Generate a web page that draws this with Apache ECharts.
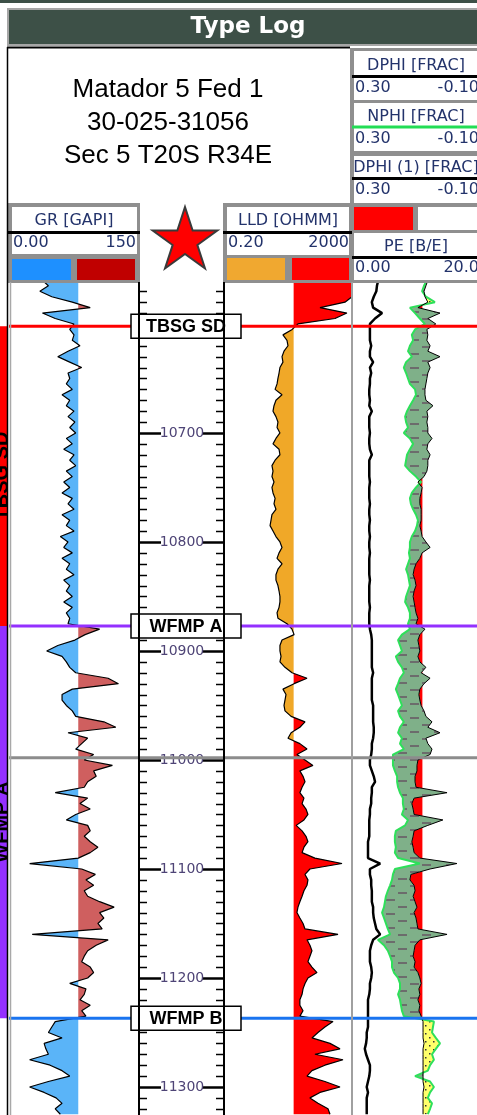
<!DOCTYPE html>
<html>
<head>
<meta charset="utf-8">
<title>Type Log</title>
<script src="https://cdn.jsdelivr.net/npm/echarts@6/dist/echarts.min.js"></script>
<style>
  html, body { margin: 0; padding: 0; background: #fff; overflow: hidden; }
  #main { width: 480px; height: 1115px; }
</style>
</head>
<body>
<div id="main"></div>
<script>
// curves are sampled every 5 ft from 10560 ft
const sampleTop = 10560;
const sampleStep = 5;

// GR [GAPI]
const gr = [
  38, 45, 35, 49, 73, 94, 38, 53, 75, 70,
  75, 73, 82, 68, 56, 70, 84, 68, 70, 66,
  73, 61, 70, 66, 75, 68, 76, 70, 77, 66,
  73, 63, 75, 70, 77, 66, 73, 63, 70, 61,
  73, 68, 75, 61, 70, 66, 75, 59, 68, 63,
  73, 61, 70, 66, 75, 63, 70, 66, 73, 63,
  73, 66, 70, 68, 105, 88, 76, 56, 43, 61,
  66, 70, 77, 115, 127, 73, 61, 61, 66, 73,
  77, 110, 124, 68, 91, 84, 77, 98, 87, 120,
  98, 101, 91, 87, 53, 91, 82, 94, 77, 66,
  91, 94, 87, 94, 103, 94, 80, 23, 84, 100,
  89, 98, 87, 91, 105, 122, 105, 110, 103, 108,
  26, 115, 101, 91, 87, 84, 94, 98, 91, 70,
  89, 87, 82, 94, 84, 89, 53, 49, 45, 61,
  40, 42, 45, 23, 47, 61, 70, 45, 23, 40,
  54, 61, 53, 59
];

// LLD [OHMM]
const lld = [
  2000, 2000, 2000, 2000, 1207, 200, 1387, 589, 41, 27,
  13.9, 18.6, 20, 15, 13, 13.9, 11.2, 10.5, 9.7, 9.1,
  7.9, 13, 8.4, 7.3, 6.8, 8.4, 9.7, 9.1, 11.2, 8.4,
  6.8, 10.5, 11.2, 7.9, 6.3, 6.8, 6.3, 7.3, 6.3, 6.8,
  7.9, 7.3, 8.4, 6.3, 5.9, 5.5, 6.8, 8.4, 11.2, 13,
  10.5, 9.1, 13, 9.7, 8.4, 8.4, 9.7, 10.5, 11.2, 11.2,
  10.5, 9.1, 9.7, 18.6, 26.7, 31, 13, 11.2, 11.2, 12.1,
  11.2, 16.1, 26.7, 78.5, 31, 13.9, 17.3, 16.1, 15, 16.1,
  25, 68, 47, 25, 20, 47, 78.5, 38, 68, 120,
  47, 59, 68, 55, 47, 63, 55, 73, 84, 63,
  36, 55, 73, 84, 63, 55, 139, 974, 97, 68,
  84, 78.5, 63, 55, 47, 41, 38, 47, 59, 68,
  731, 78.5, 97, 112, 97, 84, 112, 161, 84, 68,
  59, 55, 47, 47, 59, 47, 510, 285, 173, 112,
  411, 843, 139, 1047, 285, 112, 78.5, 285, 843, 200,
  97, 173, 355, 411
];

// PE [B/E]
const pe = [
  4.1, 3.9, 3.8, 3.4, 3.1, 3.3, 4.7, 3.6, 2.8, 2.8,
  2.8, 2.8, 3.0, 2.8, 2.8, 3.3, 2.8, 3.0, 2.8, 2.8,
  2.7, 2.7, 2.8, 2.7, 3.1, 2.7, 2.7, 2.7, 2.8, 2.7,
  2.7, 2.8, 3.1, 2.7, 2.7, 2.7, 2.7, 2.8, 2.7, 2.7,
  2.7, 2.8, 2.7, 2.7, 2.8, 2.7, 2.7, 2.8, 2.7, 2.7,
  2.8, 2.7, 2.7, 2.7, 2.7, 2.8, 2.7, 2.7, 2.7, 2.7,
  2.8, 2.7, 2.7, 2.7, 2.8, 3.0, 3.1, 3.1, 3.1, 3.1,
  3.1, 3.1, 3.3, 3.1, 3.1, 3.1, 3.1, 3.1, 3.3, 3.3,
  3.3, 3.3, 3.4, 3.4, 3.3, 3.1, 3.1, 3.0, 2.8, 2.8,
  3.1, 3.4, 3.6, 3.1, 3.1, 3.0, 3.0, 2.8, 2.8, 2.7,
  2.7, 2.7, 2.7, 2.5, 2.5, 2.5, 2.5, 4.4, 2.8, 2.8,
  3.0, 3.0, 3.1, 3.1, 3.1, 3.3, 3.3, 3.4, 3.6, 3.8,
  4.4, 3.3, 3.0, 2.8, 2.8, 2.8, 3.0, 3.1, 3.0, 2.8,
  2.8, 2.7, 2.5, 2.5, 2.5, 2.5, 2.5, 2.5, 2.3, 2.3,
  2.2, 2.0, 2.2, 2.5, 2.8, 2.8, 2.7, 2.5, 2.3, 2.5,
  2.3, 2.3, 2.3, 2.3
];

// NPHI [FRAC]
const nphi = [
  .066, .075, .081, .069, .041, .119, .103, .088, .072, .103,
  .113, .109, .119, .125, .113, .131, .138, .131, .125, .119,
  .103, .100, .109, .119, .128, .134, .131, .125, .138, .119,
  .109, .119, .128, .131, .134, .119, .100, .084, .100, .113,
  .119, .116, .109, .100, .094, .097, .103, .113, .119, .119,
  .122, .119, .125, .131, .125, .122, .119, .125, .131, .134,
  .125, .119, .119, .125, .119, .144, .156, .150, .144, .163,
  .156, .144, .138, .150, .156, .163, .156, .150, .144, .156,
  .150, .138, .150, .156, .144, .150, .138, .172, .172, .172,
  .166, .159, .159, .156, .150, .141, .141, .138, .144, .125,
  .134, .163, .166, .166, .163, .166, .156, .088, .166, .172,
  .175, .181, .188, .194, .197, .200, .206, .200, .194, .188,
  .181, .219, .200, .188, .181, .175, .175, .169, .156, .150,
  .150, .156, .150, .147, .144, .138, .044, .047, .050, .038,
  .025, .038, .050, .044, .056, .063, .103, .056, .044, .056,
  .063, .050, .056, .063
];

// DPHI [FRAC]  (DPHI (1) is the same curve, shown by the red cutoff fill)
const dphi = [
  .063, .069, .075, .072, .063, .094, .025, .063, .038, .066,
  .063, .066, .056, .063, .025, .063, .056, .063, .066, .069,
  .072, .072, .069, .047, .066, .063, .066, .063, .063, .050,
  .063, .066, .056, .063, .063, .066, .075, .094, .081, .084,
  .088, .088, .084, .084, .084, .088, .084, .081, .069, .056,
  .081, .088, .100, .106, .109, .103, .100, .106, .109, .106,
  .103, .100, .094, .100, .072, .088, .094, .091, .088, .094,
  .088, .069, .084, .056, .075, .088, .091, .088, .084, .075,
  .069, .050, .063, .025, .069, .063, .050, .056, .094, .097,
  .097, .103, .103, .100, .003, .106, .113, .109, .106, .016,
  .063, .106, .109, .113, .109, .106, .088, -.028, .056, .116,
  .119, .106, .103, .109, .103, .097, .106, .100, .097, .094,
  .003, .088, .103, .106, .109, .103, .106, .094, .088, .084,
  .091, .088, .094, .088, .091, .084, .078, .078, .078, .078,
  .075, .078, .078, .078, .078, .078, .078, .078, .075, .078,
  .078, .078, .078, .078
];

const depths = gr.map((v, i) => sampleTop + sampleStep * i);

const depthMin = 10561.5;
const depthMax = 11325.7;
const depthLabels = [10700, 10800, 10900, 11000, 11100, 11200, 11300];
const tickStep = 10;

// formation tops
const topNames = ['TBSG SD', 'WFMP A', '', 'WFMP B'];
const topDepths = [10602, 10877, 10998, 11237];
const topColors = ['#ff0000', '#9430ff', '#8c8c8c', '#1a74f0'];

const zoneNames = ['TBSG SD', 'WFMP A'];
const zoneTop = [10602, 10877];
const zoneBase = [10877, 11237];
const zoneColors = ['#ff0000', '#9430ff'];

const grCut = 80;
const lldCut = 30;
const dphiCut = 0.08;

const ticks = [];
for (let d = Math.ceil(depthMin / tickStep) * tickStep; d <= depthMax; d += tickStep) ticks.push(d);

// fill patterns
function makePattern(w, h, bg, draw) {
  const c = document.createElement('canvas');
  c.width = w; c.height = h;
  const g = c.getContext('2d');
  g.fillStyle = bg;
  g.fillRect(0, 0, w, h);
  draw(g);
  return { image: c, repeat: 'repeat' };
}
const shale = makePattern(24, 14, '#7fb089', g => {
  g.fillStyle = '#6c6c6c';
  g.fillRect(2, 3, 9, 2);
  g.fillRect(14, 10, 9, 2);
});
const sand = makePattern(8, 8, '#ffff6a', g => {
  g.fillStyle = '#333';
  g.fillRect(1, 1, 1.5, 1.5);
  g.fillRect(5, 5, 1.5, 1.5);
});

// polygons of the area where xb is right of xa (pixel space)
function runPolygons(xa, xb, ys) {
  const polys = [];
  let left = null, right = null;
  for (let i = 0; i < ys.length; i++) {
    const d = xb[i] - xa[i];
    if (i > 0) {
      const dp = xb[i - 1] - xa[i - 1];
      if ((dp > 0) !== (d > 0)) {
        const t = dp / (dp - d);
        const cx = xa[i - 1] + t * (xa[i] - xa[i - 1]);
        const cy = ys[i - 1] + t * (ys[i] - ys[i - 1]);
        if (left) {
          left.push([cx, cy]);
          polys.push(left.concat(right.reverse()));
          left = right = null;
        } else {
          left = [[cx, cy]];
          right = [];
        }
      }
    }
    if (d > 0) {
      if (!left) { left = []; right = []; }
      left.push([xa[i], ys[i]]);
      right.push([xb[i], ys[i]]);
    }
  }
  if (left) polys.push(left.concat(right.reverse()));
  return polys;
}

function fillSeries(xi, yi, leftVal, rightVal, fill, z) {
  return {
    type: 'custom', xAxisIndex: xi, yAxisIndex: yi, z: z, silent: true, clip: true,
    data: [[leftVal(0), depths[0]]],
    renderItem: function (params, api) {
      const xa = [], xb = [], ys = [];
      depths.forEach((d, i) => {
        const p = api.coord([leftVal(i), d]);
        xa.push(p[0]);
        ys.push(p[1]);
        xb.push(api.coord([rightVal(i), d])[0]);
      });
      return {
        type: 'group',
        children: runPolygons(xa, xb, ys).map(pts => ({
          type: 'polygon', shape: { points: pts }, style: { fill: fill }
        }))
      };
    }
  };
}

function curve(vals, xi, yi, color, width) {
  return {
    type: 'line', xAxisIndex: xi, yAxisIndex: yi, z: 4, silent: true,
    data: vals.map((v, i) => [v, depths[i]]),
    showSymbol: false, symbol: 'none',
    lineStyle: { color: color, width: width }
  };
}

const grids = [
  { left: 0, width: 7 },     // zone column
  { left: 10, width: 128 },  // GR
  { left: 138, width: 86 },  // depth
  { left: 224, width: 128 }, // LLD
  { left: 352, width: 128 }, // porosity + PE
  { left: 10, width: 470 }   // tops overlay
].map(g => Object.assign(g, { top: 282, height: 833, outerBoundsMode: 'none' }));

const hdr = '#23336b';
const dejavu = '"DejaVu Sans", sans-serif';

function txt(x, y, s, font, fill, align) {
  return { type: 'text', x: x, y: y, z: 50,
    style: { text: s, font: font, fill: fill || '#000', align: align || 'center', verticalAlign: 'middle' } };
}
function box(x, y, w, h, fill, stroke, lw) {
  return { type: 'rect', z: 50, shape: { x: x, y: y, width: w, height: h },
    style: { fill: fill, stroke: stroke || null, lineWidth: lw || 0 } };
}
function hline(x1, x2, y, color, w) {
  return { type: 'line', z: 51, shape: { x1: x1, y1: y, x2: x2, y2: y }, style: { stroke: color, lineWidth: w } };
}
function vline(x, y1, y2, color, w) {
  return { type: 'line', z: 51, shape: { x1: x, y1: y1, x2: x, y2: y2 }, style: { stroke: color, lineWidth: w } };
}

// star outline
const starPts = [];
for (let k = 0; k < 10; k++) {
  const a = -Math.PI / 2 + k * Math.PI / 5;
  const r = k % 2 ? 13 : 34;
  starPts.push([185 + r * Math.cos(a), 241 + r * Math.sin(a)]);
}

const f16 = '16px ' + dejavu;
const graphics = [
  box(0, 0, 480, 3, '#3d5047'),
  box(8, 9, 480, 36, '#3d5047', '#a6a6a6', 2),
  txt(248, 27, 'Type Log', 'bold 23px ' + dejavu, '#fff'),
  hline(7, 350, 47.5, '#000', 2),
  vline(7.5, 47, 1115, '#000', 1.5),
  txt(168, 90, 'Matador 5 Fed 1', '26px "Liberation Sans", Arial'),
  txt(168, 123, '30-025-31056', '26px "Liberation Sans", Arial'),
  txt(168, 156, 'Sec 5 T20S R34E', '26px "Liberation Sans", Arial'),

  // GR header
  box(8, 203, 132, 80, '#8f8f8f'),
  box(12, 207, 125, 47, '#fff'),
  txt(74, 221, 'GR [GAPI]', f16, hdr),
  hline(8, 140, 232.5, '#000', 3),
  txt(13, 243, '0.00', f16, hdr, 'left'),
  txt(136, 243, '150', f16, hdr, 'right'),
  box(12, 259, 59, 21, '#1e90ff'),
  box(77, 259, 58, 21, '#c00000'),

  // LLD header
  box(223, 203, 129, 80, '#8f8f8f'),
  box(227, 207, 122, 48, '#fff'),
  txt(288, 221, 'LLD [OHMM]', f16, hdr),
  hline(223, 352, 232.5, '#000', 3),
  txt(228, 243, '0.20', f16, hdr, 'left'),
  txt(349, 243, '2000', f16, hdr, 'right'),
  box(227, 258, 58, 22, '#f0a830'),
  box(292, 258, 57, 22, '#ff0000'),

  // porosity / PE headers
  box(350, 48, 130, 235, '#8f8f8f'),
  box(354, 51, 126, 49, '#fff'),
  txt(416, 66, 'DPHI [FRAC]', f16, hdr),
  hline(352, 480, 76.5, '#000', 3),
  txt(355, 88, '0.30', f16, hdr, 'left'),
  txt(479, 88, '-0.10', f16, hdr, 'right'),
  box(354, 103, 126, 48, '#fff'),
  txt(416, 117, 'NPHI [FRAC]', f16, hdr),
  hline(352, 480, 127, '#22dd55', 3),
  txt(355, 139, '0.30', f16, hdr, 'left'),
  txt(479, 139, '-0.10', f16, hdr, 'right'),
  box(354, 156, 126, 47, '#fff'),
  txt(416, 168, 'DPHI (1) [FRAC]', f16, hdr),
  hline(352, 480, 178.5, '#000', 3),
  txt(355, 190, '0.30', f16, hdr, 'left'),
  txt(479, 190, '-0.10', f16, hdr, 'right'),
  box(354, 207, 59, 23, '#ff0000'),
  box(418, 207, 62, 23, '#fff'),
  box(354, 233, 126, 47, '#fff'),
  txt(416, 247, 'PE [B/E]', f16, hdr),
  hline(352, 480, 257.5, '#000', 3),
  txt(355, 268, '0.00', f16, hdr, 'left'),
  txt(479, 268, '20.0', f16, hdr, 'right'),
  box(350, 48, 3.5, 235, '#8f8f8f'),

  { type: 'polygon', z: 50, shape: { points: starPts }, style: { fill: '#ff0000', stroke: '#3a3a3a', lineWidth: 2 } },

  // track borders
  vline(10.5, 282, 1115, '#a8a8a8', 1.5),
  vline(139, 282, 1115, '#000', 2),
  vline(224, 282, 1115, '#000', 2),
  vline(352, 282, 1115, '#a0a0a0', 2)
];

const series = [
  // zone column
  {
    type: 'custom', xAxisIndex: 0, yAxisIndex: 0, clip: true, silent: true, z: 2,
    data: zoneNames.map((n, i) => [0, zoneTop[i]]),
    renderItem: function (params, api) {
      const i = params.dataIndex;
      const a = api.coord([0, zoneTop[i]]);
      const b = api.coord([1, zoneBase[i]]);
      return {
        type: 'group', children: [
          { type: 'rect', shape: { x: a[0], y: a[1], width: b[0] - a[0], height: b[1] - a[1] }, style: { fill: zoneColors[i] } },
          { type: 'text', x: (a[0] + b[0]) / 2 - 1, y: (a[1] + b[1]) / 2, rotation: Math.PI / 2,
            style: { text: zoneNames[i], font: 'bold 20px "Liberation Sans", Arial', fill: '#000', align: 'center', verticalAlign: 'middle' } }
        ]
      };
    }
  },

  // GR fills and curve
  fillSeries(1, 1, i => gr[i], i => grCut, '#5ab4f8', 2),
  fillSeries(1, 1, i => grCut, i => gr[i], '#cf5f5f', 2),
  curve(gr, 1, 1, '#000', 1.2),

  // depth ticks
  {
    type: 'custom', xAxisIndex: 2, yAxisIndex: 2, clip: false, silent: true, z: 3,
    data: ticks.map(d => [0, d]),
    renderItem: function (params, api) {
      const d = ticks[params.dataIndex];
      const cs = params.coordSys;
      const y = Math.round(api.coord([0, d])[1]) + 0.5;
      const L = cs.x + 1, R = cs.x + cs.width;
      const major = depthLabels.indexOf(d) >= 0;
      const len = major ? 22 : 8;
      const w = major ? 2.5 : 1.5;
      const kids = [
        { type: 'line', shape: { x1: L, y1: y, x2: L + len, y2: y }, style: { stroke: '#000', lineWidth: w } },
        { type: 'line', shape: { x1: R - len, y1: y, x2: R, y2: y }, style: { stroke: '#000', lineWidth: w } }
      ];
      if (major) {
        kids.push({ type: 'text', x: (L + R) / 2 + 0.5, y: y,
          style: { text: String(d), font: '14px ' + dejavu, fill: '#4e4476', align: 'center', verticalAlign: 'middle' } });
      }
      return { type: 'group', children: kids };
    }
  },

  // LLD fills and curve
  fillSeries(3, 3, i => lld[i], i => lldCut, '#f0a828', 2),
  fillSeries(3, 3, i => lldCut, i => lld[i], '#ff0000', 2),
  curve(lld, 3, 3, '#000', 1.2),

  // porosity track
  fillSeries(4, 4, i => dphi[i], i => dphiCut, '#ff0000', 2),
  fillSeries(4, 4, i => nphi[i], i => dphi[i], shale, 2),
  fillSeries(4, 4, i => dphi[i], i => nphi[i], sand, 2),
  curve(nphi, 4, 4, '#2ee05a', 2),
  curve(dphi, 4, 4, '#000', 1),
  curve(pe, 5, 4, '#000', 2.5),

  // formation top lines
  {
    type: 'custom', xAxisIndex: 6, yAxisIndex: 5, clip: false, silent: true, z: 6,
    data: topDepths.map(d => [0, d]),
    renderItem: function (params, api) {
      const i = params.dataIndex;
      const cs = params.coordSys;
      const y = api.coord([0, topDepths[i]])[1];
      return { type: 'line', shape: { x1: cs.x - 1, y1: y, x2: cs.x + cs.width, y2: y },
        style: { stroke: topColors[i], lineWidth: 3 } };
    }
  },
  // formation top labels
  {
    type: 'custom', xAxisIndex: 2, yAxisIndex: 2, clip: false, silent: true, z: 7,
    data: topDepths.map(d => [0, d]),
    renderItem: function (params, api) {
      const i = params.dataIndex;
      if (!topNames[i]) return null;
      const cs = params.coordSys;
      const y = api.coord([0, topDepths[i]])[1];
      const cx = cs.x + cs.width / 2 + 5;
      return {
        type: 'group', children: [
          { type: 'rect', shape: { x: cx - 55, y: y - 12, width: 110, height: 24 },
            style: { fill: '#fff', stroke: '#000', lineWidth: 1.5 } },
          { type: 'text', x: cx, y: y + 1,
            style: { text: topNames[i], font: 'bold 18px "Liberation Sans", Arial', fill: '#000', align: 'center', verticalAlign: 'middle' } }
        ]
      };
    }
  }
];

const chart = echarts.init(document.getElementById('main'), null, { renderer: 'canvas' });
chart.setOption({
  animation: false,
  backgroundColor: '#fff',
  tooltip: { show: false },
  grid: grids,
  xAxis: [
    { gridIndex: 0, type: 'value', min: 0, max: 1, show: false },
    { gridIndex: 1, type: 'value', min: 0, max: 150, show: false },
    { gridIndex: 2, type: 'value', min: 0, max: 1, show: false },
    { gridIndex: 3, type: 'log', logBase: 10, min: 0.2, max: 2000, show: false },
    { gridIndex: 4, type: 'value', min: -0.1, max: 0.3, inverse: true, show: false },
    { gridIndex: 4, type: 'value', min: 0, max: 20, show: false },
    { gridIndex: 5, type: 'value', min: 0, max: 1, show: false }
  ],
  yAxis: grids.map((g, k) => ({
    gridIndex: k, type: 'value', inverse: true, min: depthMin, max: depthMax, show: false
  })),
  graphic: { elements: graphics },
  series: series
});
</script>
</body>
</html>
